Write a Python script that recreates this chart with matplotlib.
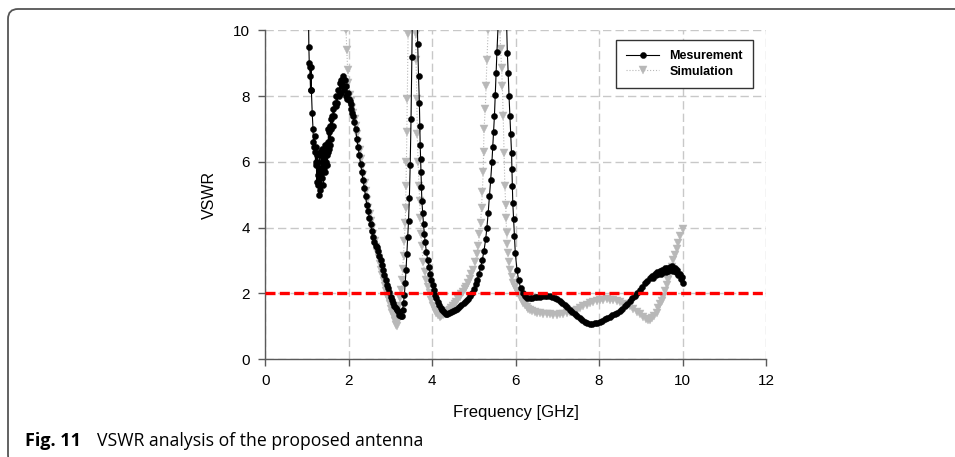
import numpy as np
import matplotlib
matplotlib.use('Agg')
import matplotlib.pyplot as plt
from matplotlib.patches import FancyBboxPatch
from matplotlib.transforms import IdentityTransform

plt.rcParams['font.family'] = ['Liberation Sans', 'DejaVu Sans']

# Measured VSWR (frequency in GHz)
meas_freq = [1.03, 1.04, 1.05, 1.06, 1.07, 1.08, 1.09, 1.10, 1.12, 1.14,
             1.15, 1.16, 1.18, 1.19, 1.20, 1.21, 1.22, 1.23, 1.24, 1.25,
             1.26, 1.27, 1.28, 1.29, 1.30, 1.31, 1.32, 1.33, 1.34, 1.35,
             1.36, 1.37, 1.38, 1.39, 1.40, 1.41, 1.42, 1.43, 1.44, 1.45,
             1.46, 1.47, 1.48, 1.49, 1.50, 1.51, 1.52, 1.53, 1.54, 1.55,
             1.56, 1.57, 1.58, 1.60, 1.61, 1.62, 1.64, 1.66, 1.68, 1.70,
             1.72, 1.74, 1.76, 1.78, 1.80, 1.82, 1.84, 1.86, 1.88, 1.90,
             1.92, 1.94, 1.96, 1.98, 2.00,
             2.02, 2.04, 2.06, 2.08, 2.10, 2.13, 2.16, 2.19, 2.22, 2.25,
             2.28, 2.31, 2.34, 2.37, 2.40, 2.43, 2.46, 2.49, 2.52, 2.55,
             2.58, 2.61, 2.64, 2.67, 2.70, 2.73, 2.76, 2.79, 2.82, 2.85,
             2.88, 2.91, 2.94, 2.97, 3.00, 3.03, 3.06, 3.09, 3.12, 3.15,
             3.18, 3.21, 3.24, 3.27, 3.29, 3.31, 3.33, 3.35, 3.37, 3.39,
             3.41, 3.43, 3.45, 3.47, 3.49, 3.51, 3.53, 3.58, 3.63, 3.65,
             3.67, 3.69, 3.70, 3.71, 3.72, 3.73, 3.74, 3.75, 3.77, 3.79,
             3.81, 3.83, 3.86, 3.89, 3.92, 3.95, 3.98, 4.01, 4.04, 4.07,
             4.10, 4.13, 4.16, 4.20, 4.24, 4.28, 4.32, 4.36, 4.40, 4.45,
             4.50, 4.55, 4.60, 4.65, 4.70, 4.75, 4.80, 4.85, 4.90, 4.95,
             5.00, 5.04, 5.08, 5.12, 5.16, 5.20, 5.24, 5.28, 5.31, 5.34,
             5.37, 5.40, 5.43, 5.45, 5.47, 5.49, 5.51, 5.53, 5.55, 5.58,
             5.68, 5.78, 5.80, 5.82, 5.84, 5.86, 5.88, 5.90, 5.91, 5.92,
             5.93, 5.95, 5.97, 5.99, 6.03, 6.07, 6.12, 6.17, 6.22, 6.28,
             6.34, 6.40, 6.46, 6.52, 6.58, 6.64, 6.70, 6.76, 6.82, 6.88,
             6.94, 7.00, 7.06, 7.12, 7.18, 7.24, 7.30, 7.36, 7.42, 7.48,
             7.54, 7.60, 7.66, 7.72, 7.78, 7.84, 7.90, 7.96, 8.02, 8.08,
             8.14, 8.20, 8.26, 8.32, 8.38, 8.44, 8.50, 8.56, 8.62, 8.68,
             8.74, 8.80, 8.86, 8.92, 8.98, 9.04, 9.10, 9.16, 9.22, 9.26,
             9.30, 9.33, 9.36, 9.39, 9.42, 9.45, 9.48, 9.51, 9.54, 9.57,
             9.60, 9.63, 9.66, 9.69, 9.72, 9.75, 9.78, 9.81, 9.84, 9.87,
             9.90, 9.93, 9.96, 9.98, 10.00]
meas_vswr = [10.6, 9.5, 9.0, 8.9, 8.6, 8.2, 8.9, 8.2, 7.5, 7.0,
             6.6, 6.45, 6.8, 6.3, 6.0, 6.45, 5.9, 5.4, 6.2, 5.6,
             5.3, 6.0, 5.0, 5.5, 6.3, 5.15, 5.8, 5.3, 6.2, 5.5,
             6.4, 5.7, 6.3, 5.3, 6.1, 5.8, 6.5, 5.7, 6.3, 6.0,
             6.5, 5.9, 6.2, 6.6, 6.3, 7.0, 6.4, 6.9, 6.5, 7.1,
             6.7, 7.3, 7.0, 7.4, 7.1, 7.6, 7.4, 7.8, 7.7, 8.0,
             7.8, 8.2, 8.0, 8.4, 8.1, 8.5, 8.3, 8.6, 8.2, 8.5,
             8.0, 8.3, 7.9, 8.1, 7.9,
             7.85, 7.75, 7.6, 7.5, 7.4, 7.2, 7.0, 6.7, 6.45, 6.2,
             5.95, 5.7, 5.45, 5.2, 4.95, 4.7, 4.5, 4.3, 4.1, 3.9,
             3.7, 3.55, 3.45, 3.4, 3.3, 3.15, 3.0, 2.85, 2.7, 2.55,
             2.4, 2.25, 2.15, 2.05, 1.9, 1.8, 1.7, 1.6, 1.55, 1.5,
             1.45, 1.35, 1.3, 1.32, 1.5, 1.7, 1.95, 2.3, 2.7, 3.2,
             3.7, 4.2, 4.9, 5.9, 7.3, 9.2, 11.5, 14.0, 11.0, 9.6,
             8.6, 7.8, 7.1, 6.5, 6.1, 5.7, 5.25, 4.8, 4.45, 4.1,
             3.8, 3.55, 3.25, 3.0, 2.8, 2.6, 2.4, 2.25, 2.1, 1.95,
             1.85, 1.75, 1.65, 1.55, 1.48, 1.42, 1.38, 1.38, 1.40, 1.42,
             1.45, 1.48, 1.52, 1.57, 1.63, 1.7, 1.77, 1.84, 1.92, 2.02,
             2.14, 2.27, 2.42, 2.6, 2.8, 3.02, 3.3, 3.65, 4.0, 4.45,
             4.95, 5.45, 6.0, 6.45, 6.9, 7.4, 8.05, 8.7, 9.35, 10.2,
             14.0, 10.3, 9.3, 8.7, 8.0, 7.4, 6.85, 6.28, 5.77, 5.27,
             4.76, 4.25, 3.74, 3.23, 2.72, 2.4, 2.15, 2.0, 1.92, 1.87,
             1.85, 1.86, 1.88, 1.9, 1.9, 1.92, 1.93, 1.93, 1.92, 1.9,
             1.86, 1.82, 1.76, 1.7, 1.64, 1.58, 1.5, 1.42, 1.36, 1.3,
             1.24, 1.18, 1.13, 1.1, 1.08, 1.08, 1.09, 1.11, 1.14, 1.17,
             1.21, 1.25, 1.29, 1.33, 1.37, 1.4, 1.45, 1.52, 1.6, 1.68,
             1.76, 1.85, 1.93, 2.02, 2.1, 2.2, 2.3, 2.38, 2.46, 2.52,
             2.48, 2.6, 2.55, 2.65, 2.58, 2.68, 2.6, 2.72, 2.64, 2.76,
             2.66, 2.78, 2.68, 2.8, 2.7, 2.82, 2.68, 2.78, 2.64, 2.72,
             2.56, 2.6, 2.45, 2.5, 2.32]

# Simulated VSWR
sim_freq = [1.90, 1.93, 1.95, 1.97, 1.99, 2.02, 2.05, 2.08, 2.11, 2.14,
            2.17, 2.20, 2.23, 2.26, 2.29, 2.32, 2.35, 2.38, 2.41, 2.44,
            2.47, 2.50, 2.53, 2.56, 2.59, 2.62, 2.65, 2.68, 2.71, 2.74,
            2.77, 2.80, 2.83, 2.86, 2.89, 2.92, 2.95, 2.98, 3.01, 3.04,
            3.07, 3.10, 3.13, 3.15, 3.17, 3.19, 3.21, 3.23, 3.25, 3.27,
            3.29, 3.31, 3.33, 3.35, 3.36, 3.37, 3.38, 3.39, 3.40, 3.42,
            3.50, 3.58, 3.60, 3.61, 3.63, 3.64, 3.66, 3.68, 3.70, 3.71,
            3.73, 3.75, 3.78, 3.82, 3.86, 3.90, 3.94, 3.98, 4.02, 4.06,
            4.10, 4.14, 4.18, 4.22, 4.26, 4.30, 4.34, 4.38, 4.42, 4.46,
            4.50, 4.54, 4.58, 4.62, 4.66, 4.70, 4.74, 4.78, 4.82, 4.86,
            4.90, 4.94, 4.98, 5.02, 5.06, 5.10, 5.13, 5.16, 5.18, 5.20,
            5.22, 5.23, 5.24, 5.27, 5.29, 5.31, 5.34, 5.47, 5.62, 5.64,
            5.66, 5.68, 5.70, 5.72, 5.74, 5.76, 5.77, 5.78, 5.80, 5.82,
            5.84, 5.86, 5.90, 5.94, 5.98, 6.02, 6.06, 6.10, 6.14, 6.18,
            6.22, 6.26, 6.30, 6.34, 6.40, 6.46, 6.52, 6.58, 6.66, 6.74,
            6.82, 6.90, 6.98, 7.06, 7.14, 7.22, 7.30, 7.38, 7.46, 7.54,
            7.62, 7.70, 7.78, 7.86, 7.94, 8.02, 8.10, 8.18, 8.26, 8.34,
            8.42, 8.50, 8.58, 8.66, 8.74, 8.82, 8.90, 8.98, 9.05, 9.12,
            9.18, 9.22, 9.27, 9.32, 9.38, 9.42, 9.46, 9.50, 9.54, 9.58,
            9.62, 9.66, 9.70, 9.74, 9.78, 9.82, 9.86, 9.90, 9.95, 10.00]
sim_vswr = [11.0, 10.0, 9.4, 8.8, 8.4, 8.05, 7.85, 7.65, 7.5, 7.3,
            7.1, 6.85, 6.6, 6.35, 6.1, 5.85, 5.6, 5.35, 5.1, 4.85,
            4.6, 4.4, 4.2, 4.0, 3.8, 3.6, 3.42, 3.25, 3.08, 2.9,
            2.72, 2.55, 2.38, 2.22, 2.07, 1.93, 1.8, 1.66, 1.53, 1.4,
            1.27, 1.15, 1.05, 1.02, 1.15, 1.35, 1.6, 1.85, 2.1, 2.4,
            2.75, 3.15, 3.6, 4.15, 4.6, 5.27, 6.0, 6.9, 7.9, 9.9,
            14.0, 11.0, 9.9, 9.1, 7.9, 6.85, 6.0, 5.27, 4.8, 4.3,
            3.8, 3.44, 2.95, 2.65, 2.42, 2.2, 2.0, 1.8, 1.6, 1.48,
            1.4, 1.33, 1.29, 1.3, 1.33, 1.37, 1.4, 1.45, 1.5, 1.55,
            1.6, 1.67, 1.75, 1.82, 1.9, 1.98, 2.05, 2.12, 2.2, 2.32,
            2.45, 2.58, 2.72, 2.95, 3.2, 3.44, 3.8, 4.15, 4.6, 5.07,
            5.68, 6.3, 7.0, 7.6, 8.3, 9.1, 10.0, 14.0, 10.0, 9.45,
            8.85, 8.3, 7.4, 6.28, 5.27, 4.7, 4.3, 3.85, 3.5, 3.23,
            2.95, 2.72, 2.5, 2.31, 2.18, 2.08, 2.0, 1.9, 1.8, 1.7,
            1.63, 1.57, 1.53, 1.5, 1.46, 1.43, 1.41, 1.4, 1.38, 1.37,
            1.36, 1.35, 1.35, 1.36, 1.38, 1.4, 1.43, 1.46, 1.5, 1.55,
            1.6, 1.65, 1.69, 1.73, 1.77, 1.8, 1.81, 1.82, 1.81, 1.8,
            1.77, 1.73, 1.68, 1.64, 1.6, 1.52, 1.44, 1.36, 1.29, 1.23,
            1.2, 1.19, 1.24, 1.3, 1.4, 1.55, 1.68, 1.78, 1.9, 2.08,
            2.25, 2.42, 2.6, 2.8, 3.0, 3.17, 3.35, 3.52, 3.75, 3.95]

xticks = [0, 2, 4, 6, 8, 10, 12]
yticks = [0, 2, 4, 6, 8, 10]
vswr_limit = 2

fig = plt.figure(figsize=(9.55, 4.57), dpi=100)
ax = fig.add_axes([0.278, 0.2144, 0.524, 0.7189])

gray = '#b8b8b8'
ax.plot(sim_freq, sim_vswr, color=gray, linestyle=':', linewidth=0.8,
        marker='v', markersize=5.8, markerfacecolor=gray, markeredgecolor=gray,
        markeredgewidth=0.3, label='Simulation', zorder=3)
ax.plot(meas_freq, meas_vswr, color='black', linestyle='-', linewidth=0.8,
        marker='o', markersize=4.4, markerfacecolor='black', markeredgecolor='black',
        markeredgewidth=0.3, label='Mesurement', zorder=4)
ax.axhline(vswr_limit, color='red', linewidth=2.4, linestyle=(0, (3.0, 1.3)), zorder=5)

ax.set_xlim(0, 12)
ax.set_ylim(0, 10)
ax.set_xticks(xticks)
ax.set_yticks(yticks)
ax.grid(True, color='#c8c8c8', linewidth=1.0, linestyle=(0, (6, 3)))
ax.set_axisbelow(True)

for side in ['top', 'right']:
    ax.spines[side].set_visible(False)
for side in ['left', 'bottom']:
    ax.spines[side].set_color('#5a5a5a')
    ax.spines[side].set_linewidth(1.0)
ax.tick_params(direction='out', length=5, width=1.0, color='#5a5a5a',
               labelsize=11, pad=6)

ax.set_xlabel('Frequency [GHz]', fontsize=12, labelpad=12)
ax.set_ylabel('VSWR', fontsize=11.5, labelpad=12)

handles, labels = ax.get_legend_handles_labels()
leg = ax.legend(handles[::-1], labels[::-1], loc='upper right',
                bbox_to_anchor=(0.974, 0.971), borderaxespad=0,
                fancybox=False, edgecolor='#333333', framealpha=1,
                prop={'size': 9, 'weight': 'bold'}, handlelength=2.7,
                labelspacing=0.3, borderpad=0.8)
leg.get_frame().set_linewidth(1.0)

# page frame with rounded corner
frame = FancyBboxPatch((8, -8), 1000, 456, boxstyle='round,pad=0,rounding_size=10',
                       transform=IdentityTransform(), facecolor='none',
                       edgecolor='#555555', linewidth=1.3)
fig.add_artist(frame)

cap_y = 1 - 441 / 457
fig.text(25 / 955, cap_y, 'Fig. 11', fontsize=13, fontweight='bold',
         family=['Open Sans', 'DejaVu Sans'], va='center', ha='left')
fig.text(97 / 955, cap_y, 'VSWR analysis of the proposed antenna',
         fontsize=12.7, family=['Open Sans', 'DejaVu Sans'], va='center', ha='left')

fig.savefig('out.png', dpi=100)
